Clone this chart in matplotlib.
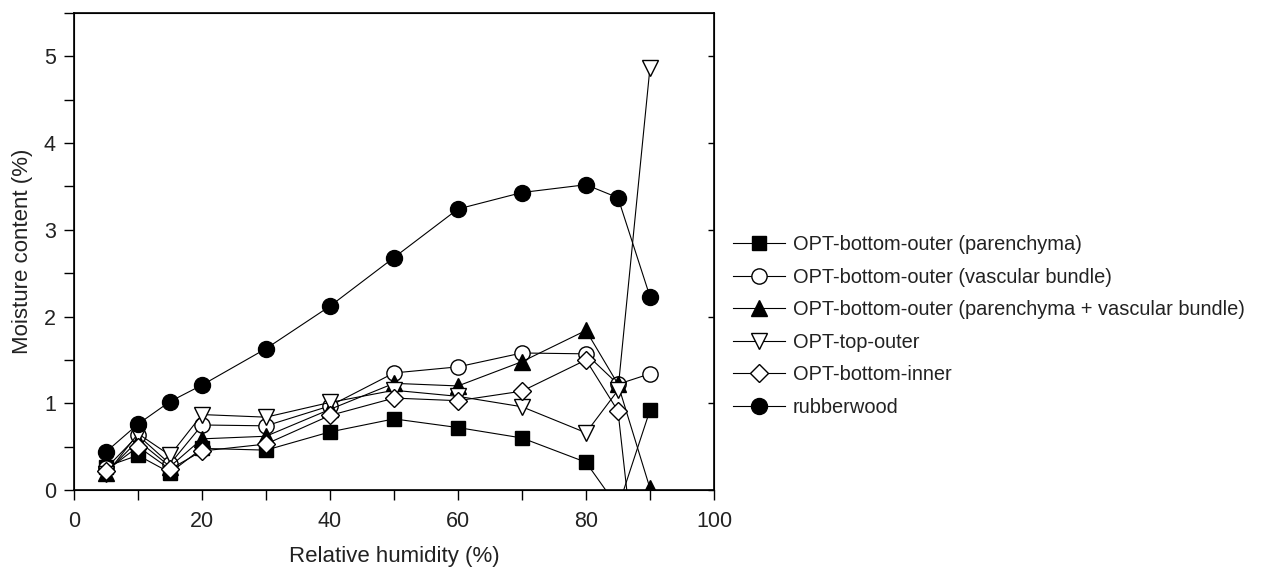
import matplotlib
matplotlib.use("Agg")
import matplotlib.pyplot as plt
from matplotlib.ticker import MultipleLocator

plt.rcParams['font.family'] = ['Liberation Sans', 'DejaVu Sans']

rh = [5, 10, 15, 20, 30, 40, 50, 60, 70, 80, 85, 90]
parenchyma = [0.27, 0.40, 0.20, 0.48, 0.46, 0.67, 0.82, 0.72, 0.60, 0.32, -0.20, 0.92]
vascular = [0.25, 0.63, 0.30, 0.75, 0.74, 0.97, 1.35, 1.42, 1.58, 1.57, 1.22, 1.34]
par_vb = [0.20, 0.57, 0.27, 0.59, 0.62, 0.93, 1.23, 1.20, 1.48, 1.84, 1.22, 0.02]
top_outer = [0.18, 0.65, 0.40, 0.87, 0.84, 1.01, 1.15, 1.08, 0.96, 0.66, 1.15, 4.87]
bottom_inner = [0.22, 0.50, 0.24, 0.45, 0.53, 0.86, 1.06, 1.03, 1.14, 1.50, 0.91, -2.40]
rubberwood = [0.44, 0.76, 1.02, 1.21, 1.63, 2.12, 2.68, 3.24, 3.43, 3.52, 3.37, 2.23]

labels = ["OPT-bottom-outer (parenchyma)",
          "OPT-bottom-outer (vascular bundle)",
          "OPT-bottom-outer (parenchyma + vascular bundle)",
          "OPT-top-outer",
          "OPT-bottom-inner",
          "rubberwood"]

series = [parenchyma, vascular, par_vb, top_outer, bottom_inner, rubberwood]
styles = [dict(marker='s', mfc='black', ms=9.5),
          dict(marker='o', mfc='white', ms=11),
          dict(marker='^', mfc='black', ms=11.5),
          dict(marker='v', mfc='white', ms=11.5),
          dict(marker='D', mfc='white', ms=9.5),
          dict(marker='o', mfc='black', ms=11.5)]

txt = '#222222'
fig = plt.figure(figsize=(12.63, 5.69), dpi=100)
ax = fig.add_axes([0.0586, 0.1388, 0.5067, 0.8384])

handles = []
for ys, st, lab in zip(series, styles, labels):
    h, = ax.plot(rh, ys, color='black', lw=0.8, mec='black', mew=1.0,
                 label=lab, **st)
    handles.append(h)

ax.set_xlim(0, 100)
ax.set_ylim(0, 5.5)
ax.xaxis.set_major_locator(MultipleLocator(20))
ax.xaxis.set_minor_locator(MultipleLocator(10))
ax.yaxis.set_major_locator(MultipleLocator(1))
ax.yaxis.set_minor_locator(MultipleLocator(0.5))
ax.tick_params(axis='both', which='both', direction='out', length=7, width=1,
               labelsize=15.5, labelcolor=txt, top=False, right=False)
ax.tick_params(axis='x', which='major', pad=8)
ax.tick_params(axis='y', which='major', pad=6)
for s in ax.spines.values():
    s.set_linewidth(1.2)

# inward right-side ticks at major positions
ax2 = ax.twinx()
ax2.set_ylim(ax.get_ylim())
ax2.yaxis.set_major_locator(MultipleLocator(1))
ax2.yaxis.set_minor_locator(MultipleLocator(0.5))
ax2.tick_params(axis='y', which='major', direction='in', length=4.5, width=1,
                labelright=False)
ax2.tick_params(axis='y', which='minor', length=0)

ax.set_xlabel("Relative humidity (%)", fontsize=16, color=txt, labelpad=10)
ax.set_ylabel("Moisture content (%)", fontsize=16, color=txt, labelpad=8)

leg = fig.legend(handles=handles, labels=labels, loc='center left',
                 bbox_to_anchor=(0.574, 0.427), frameon=False, fontsize=14.4,
                 handlelength=2.6, handletextpad=0.4, labelspacing=0.68,
                 labelcolor=txt, borderaxespad=0)

fig.savefig("out.png", dpi=100)
